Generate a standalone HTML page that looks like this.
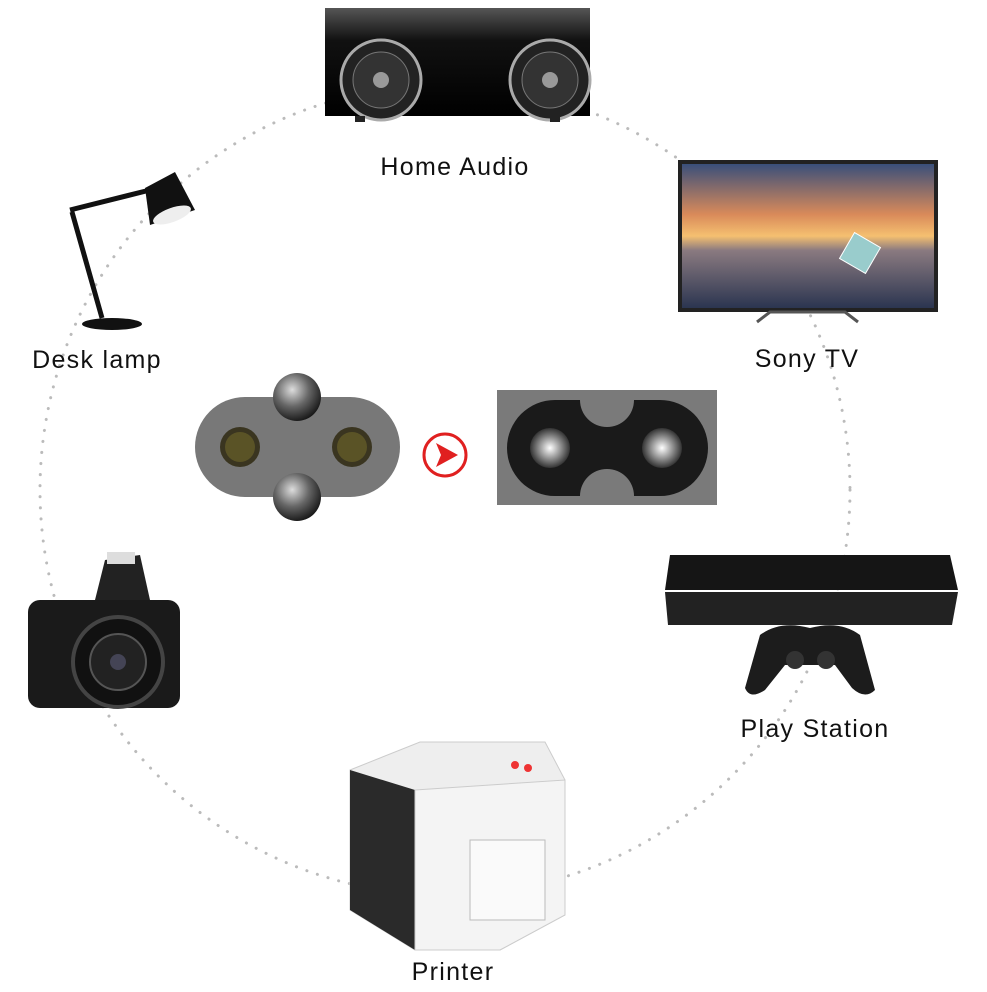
<!DOCTYPE html>
<html><head><meta charset="utf-8"><style>
html,body{margin:0;padding:0;background:#fff;}
body{width:987px;height:987px;overflow:hidden;}
svg text{font-family:"Liberation Sans",sans-serif;font-size:25px;letter-spacing:1.3px;fill:#111;}
</style></head><body>
<svg width="987" height="987" viewBox="0 0 987 987" xmlns="http://www.w3.org/2000/svg">
<defs>
<linearGradient id="sky" x1="0" y1="0" x2="0" y2="1">
<stop offset="0" stop-color="#3a4f7a"/><stop offset="0.35" stop-color="#d98a5a"/><stop offset="0.5" stop-color="#f5c070"/><stop offset="0.6" stop-color="#8a7a80"/><stop offset="1" stop-color="#2b3550"/>
</linearGradient>
<radialGradient id="ball" cx="0.4" cy="0.35" r="0.7"><stop offset="0" stop-color="#ddd"/><stop offset="0.5" stop-color="#666"/><stop offset="1" stop-color="#111"/></radialGradient>
<radialGradient id="pin" cx="0.5" cy="0.5" r="0.5"><stop offset="0" stop-color="#fff"/><stop offset="0.5" stop-color="#999"/><stop offset="1" stop-color="#333"/></radialGradient>
<linearGradient id="spk" x1="0" y1="0" x2="0" y2="1"><stop offset="0" stop-color="#555"/><stop offset="0.3" stop-color="#111"/><stop offset="1" stop-color="#000"/></linearGradient>
</defs>
<circle cx="445" cy="490" r="405" fill="none" stroke="#bbb" stroke-width="3" stroke-dasharray="0.1 11" stroke-linecap="round"/>

<rect x="325" y="8" width="265" height="108" fill="url(#spk)"/>
<circle cx="381" cy="80" r="40" fill="#222" stroke="#aaa" stroke-width="3"/>
<circle cx="381" cy="80" r="28" fill="#333" stroke="#777"/><circle cx="381" cy="80" r="8" fill="#999"/>
<circle cx="550" cy="80" r="40" fill="#222" stroke="#aaa" stroke-width="3"/>
<circle cx="550" cy="80" r="28" fill="#333" stroke="#777"/><circle cx="550" cy="80" r="8" fill="#999"/>
<rect x="355" y="116" width="10" height="6" fill="#222"/><rect x="550" y="116" width="10" height="6" fill="#222"/>
<text x="455" y="175" text-anchor="middle">Home Audio</text>

<rect x="678" y="160" width="260" height="152" fill="#222"/>
<rect x="682" y="164" width="252" height="144" fill="url(#sky)"/>
<rect x="845" y="238" width="30" height="30" fill="#9cc" stroke="#fff" transform="rotate(30 860 253)"/>
<path d="M757 322 L770 312 L845 312 L858 322" fill="none" stroke="#555" stroke-width="3"/>
<text x="807" y="367" text-anchor="middle">Sony TV</text>

<path d="M70 210 L150 190 M72 212 L102 318" stroke="#111" stroke-width="5" fill="none"/>
<path d="M145 188 L175 172 L195 210 L150 225 Z" fill="#111"/>
<ellipse cx="172" cy="215" rx="20" ry="7" fill="#eee" transform="rotate(-20 172 215)"/>
<ellipse cx="112" cy="324" rx="30" ry="6" fill="#111"/>
<text x="97" y="368" text-anchor="middle">Desk lamp</text>

<rect x="195" y="397" width="205" height="100" rx="50" fill="#787878"/>
<circle cx="297" cy="397" r="24" fill="url(#ball)"/><circle cx="297" cy="497" r="24" fill="url(#ball)"/>
<circle cx="240" cy="447" r="20" fill="#3a3520"/><circle cx="240" cy="447" r="15" fill="#5a5326"/>
<circle cx="352" cy="447" r="20" fill="#3a3520"/><circle cx="352" cy="447" r="15" fill="#5a5326"/>
<circle cx="445" cy="455" r="21" fill="#fff" stroke="#e02020" stroke-width="3"/>
<path d="M436 443 L458 455 L436 467 L441 455 Z" fill="#e02020"/>
<rect x="497" y="390" width="220" height="115" fill="#7a7a7a"/>
<path d="M555 400 L580 400 A27 27 0 0 0 634 400 L660 400 A48 48 0 0 1 660 496 L634 496 A27 27 0 0 0 580 496 L555 496 A48 48 0 0 1 555 400 Z" fill="#1a1a1a"/>
<circle cx="550" cy="448" r="20" fill="url(#pin)"/><circle cx="662" cy="448" r="20" fill="url(#pin)"/>

<path d="M670 555 L950 555 L958 590 L665 590 Z" fill="#151515"/>
<path d="M665 592 L958 592 L952 625 L668 625 Z" fill="#222"/>
<path d="M760 635 Q780 620 810 628 Q840 620 860 635 L875 690 Q865 700 852 688 L835 665 L785 665 L765 690 Q750 700 745 688 Z" fill="#1c1c1c"/>
<circle cx="795" cy="660" r="9" fill="#333"/><circle cx="826" cy="660" r="9" fill="#333"/>
<text x="815" y="737" text-anchor="middle">Play Station</text>

<rect x="28" y="600" width="152" height="108" rx="12" fill="#1a1a1a"/>
<path d="M95 600 L105 560 L140 555 L150 600 Z" fill="#222"/>
<rect x="107" y="552" width="28" height="12" fill="#ddd"/>
<circle cx="118" cy="662" r="45" fill="#111" stroke="#444" stroke-width="4"/>
<circle cx="118" cy="662" r="28" fill="#222" stroke="#555" stroke-width="2"/>
<circle cx="118" cy="662" r="8" fill="#445"/>

<path d="M350 770 L420 742 L545 742 L565 780 L565 915 L500 950 L415 950 L350 910 Z" fill="#eee" stroke="#ccc"/>
<path d="M350 770 L415 790 L415 950 L350 910 Z" fill="#2a2a2a"/>
<path d="M415 790 L565 780 L565 915 L500 950 L415 950 Z" fill="#f4f4f4" stroke="#ccc"/>
<rect x="470" y="840" width="75" height="80" fill="#fafafa" stroke="#bbb"/>
<circle cx="515" cy="765" r="4" fill="#e33"/><circle cx="528" cy="768" r="4" fill="#e33"/>
<text x="453" y="980" text-anchor="middle">Printer</text>
</svg>
</body></html>
